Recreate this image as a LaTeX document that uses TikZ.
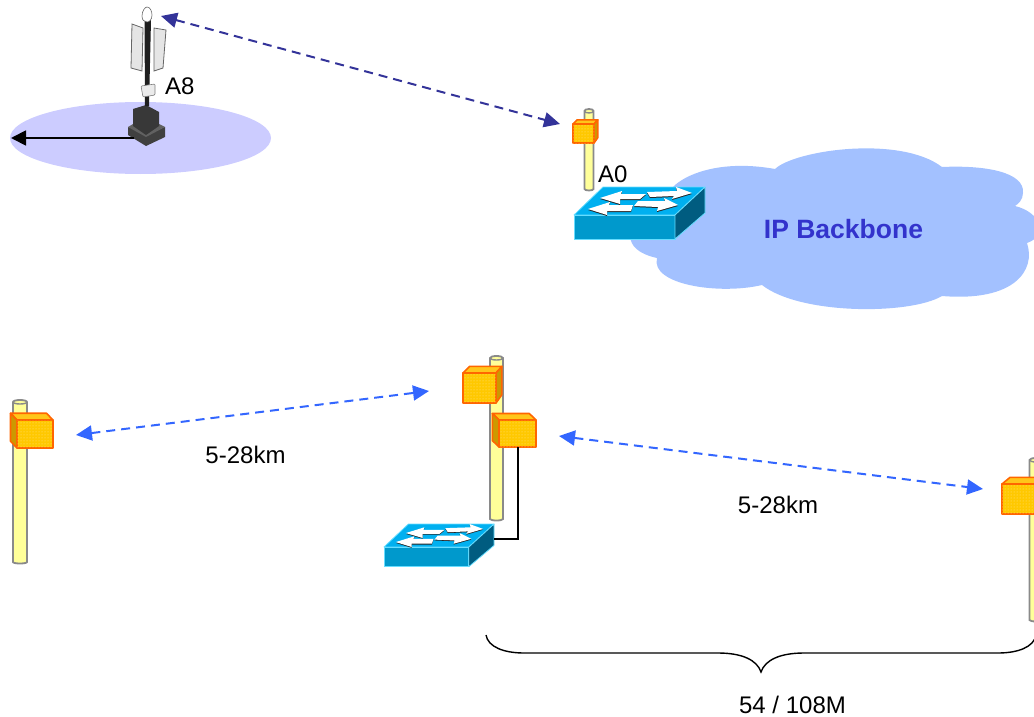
\documentclass[tikz,border=0pt]{standalone}
\usepackage{fontspec}
\setmainfont{Liberation Sans}
\usetikzlibrary{arrows.meta,patterns}

\definecolor{poleFill}{HTML}{FFFF99}
\definecolor{poleLine}{HTML}{8A8A8A}
\definecolor{boxLine}{HTML}{FF6600}
\definecolor{boxFill}{HTML}{FFC800}
\definecolor{boxTop}{HTML}{FFC61A}
\definecolor{boxSide}{HTML}{CC9900}
\definecolor{boxDot}{HTML}{FFE68C}
\definecolor{swTop}{HTML}{00B0F0}
\definecolor{swFront}{HTML}{0099CC}
\definecolor{swSide}{HTML}{005C80}
\definecolor{swEdge}{HTML}{66DDFF}
\definecolor{cloudFill}{HTML}{A3C1FF}
\definecolor{cellFill}{HTML}{CCCCFF}
\definecolor{darkLink}{HTML}{333399}
\definecolor{lightLink}{HTML}{3366FF}
\definecolor{cloudText}{HTML}{3333CC}

\tikzset{
  x=1pt, y=-1pt,
  lab/.style={font=\fontsize{24}{28}\selectfont, inner sep=0pt},
  linktip/.style={{Triangle[length=16pt,width=15pt]}-{Triangle[length=16pt,width=15pt]}},
  darklink/.style={darkLink, line width=2pt, dash pattern=on 9pt off 6pt, linktip},
  lightlink/.style={lightLink, line width=2pt, dash pattern=on 9pt off 6pt, linktip},
  boxedge/.style={boxLine, line width=1.6pt, line join=round},
  boxface/.style={boxedge, fill=boxFill, postaction={pattern=dots, pattern color=boxDot}},
  towerpart/.style={black!60, fill=black!10, line width=.8pt},
  % pole: #1 is the half width, #2 the height, origin at the top centre
  pics/pole/.style 2 args={code={
    \draw[poleLine, fill=poleFill, line width=1.8pt]
      (-#1,0) -- (-#1,#2) arc[start angle=180, end angle=360, x radius=#1, y radius=-1.5] -- (#1,0)
      arc[start angle=0, end angle=180, x radius=#1, y radius=-2] -- cycle;
    \draw[poleLine, line width=1.4pt] (-#1,0) arc[start angle=180, end angle=360, x radius=#1, y radius=-2];
  }},
  % box, origin at the front top left corner
  pics/boxr/.style 2 args={code={
    \filldraw[boxedge, fill=boxTop] (0,0) -- (.2*#1,-.22*#2) -- (1.18*#1,-.22*#2) -- (#1,0) -- cycle;
    \filldraw[boxedge, fill=boxSide] (#1,0) -- (1.18*#1,-.22*#2) -- (1.18*#1,.72*#2) -- (#1,#2) -- cycle;
    \filldraw[boxface] (0,0) rectangle (#1,#2);
  }},
  pics/boxl/.style 2 args={code={
    \filldraw[boxedge, fill=boxTop] (0,0) -- (-.18*#1,-.24*#2) -- (.82*#1,-.24*#2) -- (#1,0) -- cycle;
    \filldraw[boxedge, fill=boxSide] (0,0) -- (-.18*#1,-.24*#2) -- (-.18*#1,.76*#2) -- (0,#2) -- cycle;
    \filldraw[boxface] (0,0) rectangle (#1,#2);
  }},
  % switch, origin at the front top left corner
  pics/switch/.style 2 args={code={
    \begin{scope}[xscale=#1, yscale=#2]
    \filldraw[swEdge, fill=swTop, line width=.8pt, line join=round] (0,0) -- (29,-28) -- (131,-28) -- (101,0) -- cycle;
    \filldraw[swEdge, fill=swFront, line width=.8pt] (0,0) rectangle (101,24);
    \filldraw[swEdge, fill=swSide, line width=.8pt, line join=round] (101,0) -- (131,-28) -- (131,-2) -- (101,24) -- cycle;
    \foreach \shade/\drop in {black!85/1, white/0} {
      \begin{scope}[yshift=-\drop pt]
      \fill[\shade] (26,-17) -- (48,-24) -- (47,-21) -- (72,-21) -- (66,-16) -- (46,-16) -- (46,-11) -- cycle;
      \fill[\shade] (14,-6) -- (36,-13) -- (35,-10) -- (59,-10) -- (57,-4) -- (33,-4) -- (33,0) -- cycle;
      \fill[\shade] (73,-23) -- (103,-24) -- (102,-28) -- (118,-22) -- (98,-16) -- (100,-19) -- (76,-18) -- cycle;
      \fill[\shade] (64,-14) -- (91,-14) -- (90,-17) -- (104,-10) -- (83,-4) -- (84,-8) -- (60,-9) -- cycle;
      \end{scope}
    }
    \end{scope}
  }},
}

\begin{document}
\begin{tikzpicture}
\useasboundingbox (0,0) rectangle (1034,717);

% coverage cell
\fill[cellFill] (140.5,138) ellipse[x radius=130.5, y radius=36];

% tower
\fill[black!75] (128,127) -- (128,135) -- (146,146) -- (165,137) -- (165,127) -- (146,135) -- cycle;
\fill[black!62] (128,127) -- (133,124) -- (159,124) -- (165,127) -- (146,137) -- cycle;
\fill[black!78] (133,109) -- (146,105) -- (159,112) -- (159,126) -- (146,135) -- (133,126) -- cycle;
\fill[black!88] (144.5,20) -- (151,20) -- (149,106) -- (145,106) -- cycle;
\filldraw[black!60, fill=white, line width=.6pt] (142,16) .. controls (142,11) and (145,7) .. (147,7) .. controls (150,7) and (152,11) .. (152,15) .. controls (152,20) and (149,22) .. (147,22) .. controls (144,22) and (142,20) .. (142,16) -- cycle;
\filldraw[towerpart] (132,24) -- (143,28) -- (142,71) -- (131,68) -- cycle;
\filldraw[towerpart] (154,28) -- (166,30) -- (163,68) -- (154,71) -- cycle;
\filldraw[black!50, fill=black!8, line width=.6pt, rounded corners=1pt] (141,86) -- (155,84) -- (155,95) -- (143,97) -- cycle;
\node[lab, anchor=west] (a8) at (165,86) {A8};

% cloud
\fill[cloudFill] (675,185) .. controls (690,172) and (725,160) .. (775,169)
  .. controls (795,150) and (900,135) .. (942,167)
  .. controls (985,165) and (1025,172) .. (1023,193)
  .. controls (1023,200) and (1018,204) .. (1015,206)
  .. controls (1040,212) and (1050,235) .. (1027,243)
  .. controls (1036,270) and (1015,302) .. (942,296)
  .. controls (910,315) and (800,315) .. (762,285)
  .. controls (720,295) and (650,285) .. (657,258)
  .. controls (620,250) and (625,225) .. (650,210) -- cycle;
\node[lab, font=\fontsize{26.5}{30}\selectfont\bfseries, text=cloudText] (backbone) at (843.5,229) {IP Backbone};

% A0 site
\pic at (589,111) {pole={4.5}{78}};
\pic at (573,124) {boxr={21}{19}};
\node[lab, anchor=west] (a0) at (598,174) {A0};
\pic at (574,215) {switch={1}{1}};

% lower row
\pic at (20,402) {pole={7}{160}};
\pic at (17,420) {boxl={36}{28}};
\pic at (496.5,358) {pole={6.5}{161}};
\pic at (463,373) {boxr={33}{30}};
\pic at (499,420) {boxl={37}{27}};
\pic at (384,547) {switch={.84}{.82}};
\pic at (1036,460) {pole={6.5}{160}};
\pic at (1002,484) {boxr={40}{30}};

% named points for the connectors
\coordinate (towertop) at (161,16);
\coordinate (a0left) at (560,124);
\coordinate (leftbox) at (76,435);
\coordinate (midtop) at (429,391);
\coordinate (midbox) at (559,436);
\coordinate (rightbox) at (983,489);
\coordinate (cellfoot) at (134,138);
\coordinate (cellrim) at (11,138);
\coordinate (boxfoot) at (518,447);
\coordinate (swside) at (494,539);

\draw[darklink] (towertop) -- (a0left);
\draw[lightlink] (leftbox) -- (midtop);
\draw[lightlink] (midbox) -- (rightbox);
\draw[black, line width=1.8pt, -{Triangle[length=15pt,width=15pt]}] (cellfoot) -- (cellrim);
\draw[black, line width=1.6pt] (boxfoot) |- (swside);

\node[lab] (hop1) at (245.5,455) {5-28km};
\node[lab] (hop2) at (778,505) {5-28km};

% brace
\coordinate (bracel) at (486,635);
\coordinate (bracer) at (1036,635);
\coordinate (bracem) at (761,672);
\draw[black, line width=1.4pt] (bracel) .. controls (488,647) and (504,653) .. (524,653) -- (718,653)
  .. controls (742,653) and (757,660) .. (bracem) .. controls (765,660) and (780,653) .. (804,653) -- (998,653)
  .. controls (1018,653) and (1034,647) .. (bracer);
\node[lab] (rate) at (792.5,705) {54 / 108M};
\end{tikzpicture}
\end{document}
